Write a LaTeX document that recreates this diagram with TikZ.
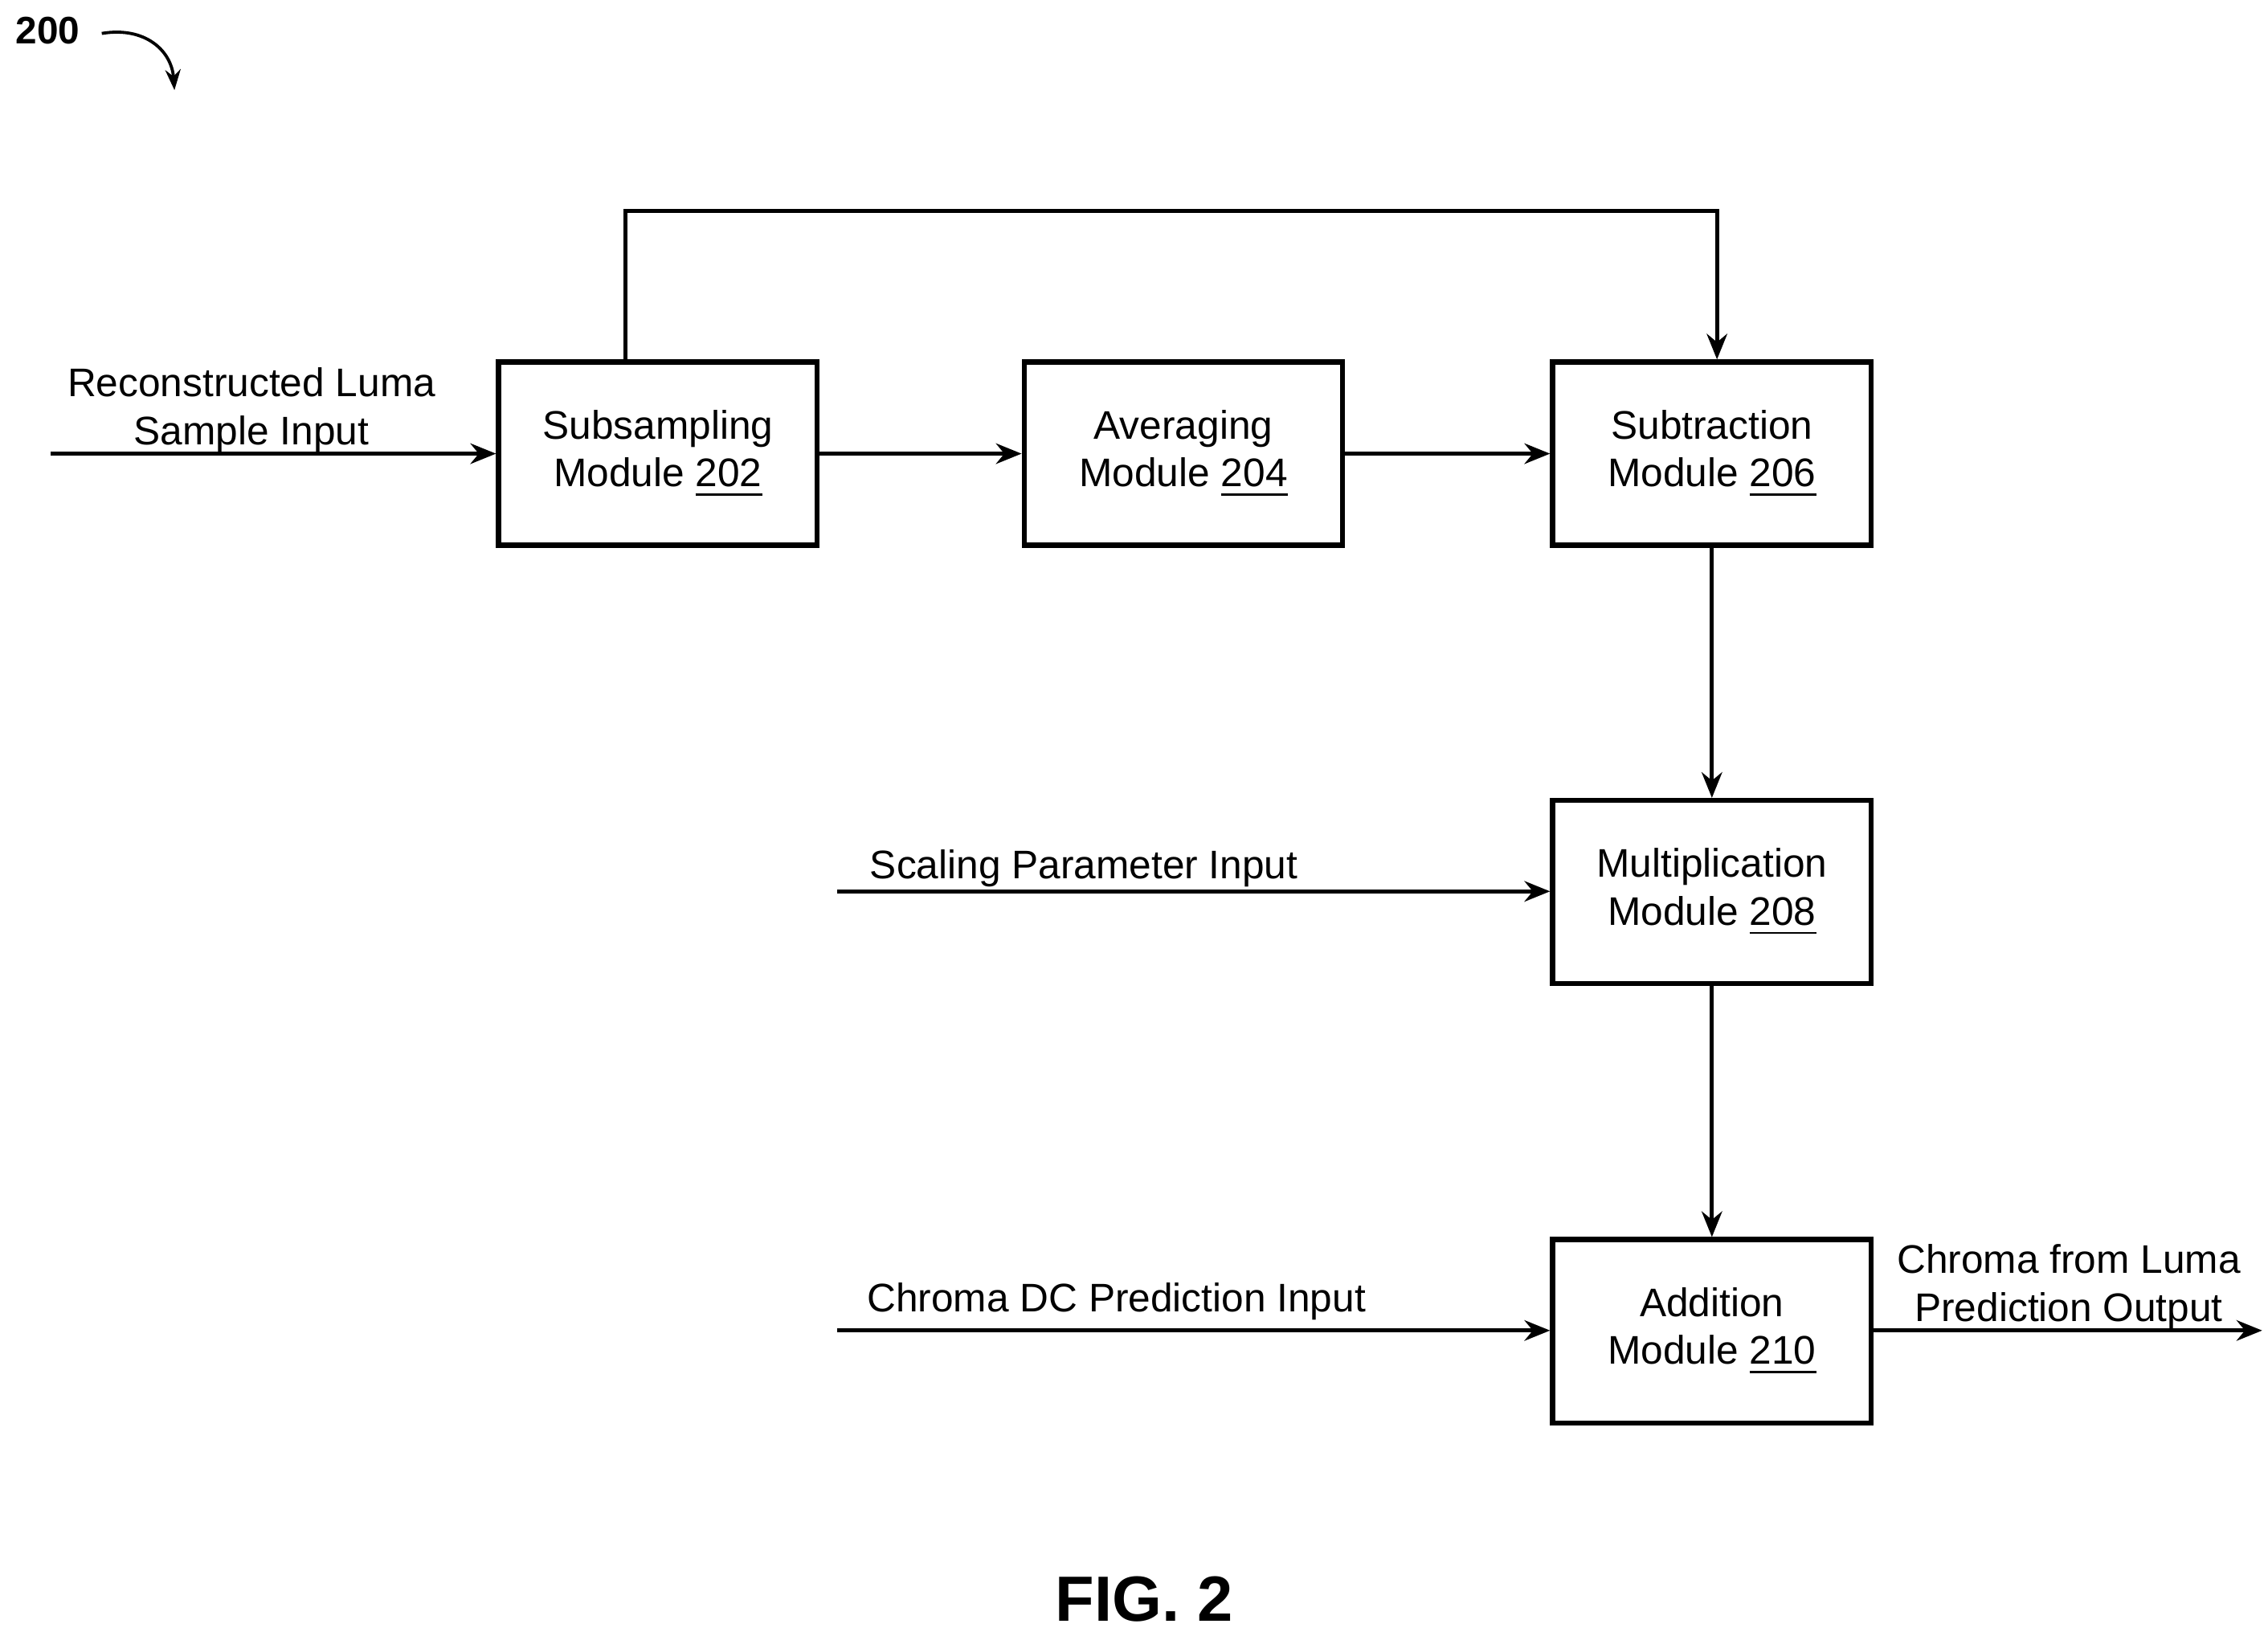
\documentclass[tikz,border=0pt]{standalone}
\usepackage{fontspec}
\setmainfont{Liberation Sans}
\usetikzlibrary{arrows.meta}
\begin{document}
\begin{tikzpicture}[x=0.01cm,y=-0.01cm,
  box/.style={draw,line width=1pt,minimum width=2.19cm,minimum height=1.26cm,align=center,font=\fontsize{7.8}{9.4}\selectfont},
  lbl/.style={font=\fontsize{7.8}{9.4}\selectfont,align=center},
  arr/.style={-{Stealth[length=5pt,width=4pt]},line width=0.8pt}]
\useasboundingbox (0,0) rectangle (1560,1122);
\node[box] (b202) at (452.5,312) {Subsampling\\Module \underline{202}};
\node[box] (b204) at (814,312) {Averaging\\Module \underline{204}};
\node[box] (b206) at (1177.5,312) {Subtraction\\Module \underline{206}};
\node[box] (b208) at (1177.5,613.5) {Multiplication\\Module \underline{208}};
\node[box] (b210) at (1177.5,915.5) {Addition\\Module \underline{210}};
\coordinate (in) at (35,312);
\coordinate (sc) at (576,613);
\coordinate (dc) at (576,915);
\coordinate (out) at (1556,915);
\draw[arr] (in) -- (b202.west);
\node[lbl] (t1) at (173,282) {Reconstructed Luma\\Sample Input};
\draw[arr] (b202) -- (b204);
\draw[arr] (b204) -- (b206);
\draw[arr] (b202.north -| 430,0) -- (430,145) -- (1181,145) -- (b206.north -| 1181,0);
\draw[arr] (b206) -- (b208);
\draw[arr] (b208) -- (b210);
\draw[arr] (sc) -- (sc -| b208.west);
\node[lbl,anchor=west] (t2) at (586,597) {Scaling Parameter Input};
\draw[arr] (dc) -- (dc -| b210.west);
\node[lbl,anchor=west] (t3) at (584,895) {Chroma DC Prediction Input};
\draw[arr] (out -| b210.east) -- (out);
\node[lbl] (t4) at (1423,885) {Chroma from Luma\\Prediction Output};
\node[font=\bfseries\fontsize{7.5}{9}\selectfont] (n200) at (33,21) {200};
\draw[-{Stealth[length=4pt,width=3pt]},line width=0.6pt] (70,23) .. controls (100,18) and (118,35) .. (120,62);
\node[font=\bfseries\fontsize{12.5}{15}\selectfont] (fig) at (787,1100) {FIG. 2};
\end{tikzpicture}
\end{document}
